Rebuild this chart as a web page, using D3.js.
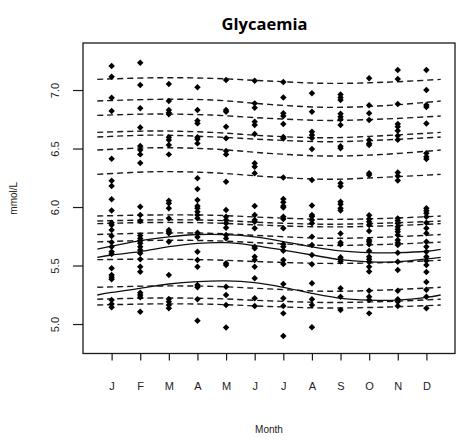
<!DOCTYPE html>
<html>
<head>
<meta charset="utf-8">
<script src="https://cdn.jsdelivr.net/npm/d3@7"></script>
<style>
  html, body { margin: 0; padding: 0; background: #fff; }
  svg { display: block; }
</style>
</head>
<body>
<div id="chart"></div>
<script>
// ---------- DATA ----------
const months = ["J","F","M","A","M","J","J","A","S","O","N","D"];
const yTicks = [5.0, 5.5, 6.0, 6.5, 7.0];

// knots (month positions) for dashed individual curves
const dashKnots = [0.5, 2.5, 4.5, 6.5, 8.5, 10.5, 12.5];
const dashedSeries = [
  [7.091, 7.105, 7.100, 7.077, 7.057, 7.066, 7.091],
  [6.906, 6.920, 6.915, 6.877, 6.852, 6.866, 6.906],
  [6.783, 6.795, 6.786, 6.758, 6.740, 6.752, 6.778],
  [6.638, 6.650, 6.638, 6.607, 6.592, 6.610, 6.638],
  [6.598, 6.615, 6.600, 6.575, 6.558, 6.573, 6.598],
  [6.487, 6.507, 6.496, 6.459, 6.436, 6.450, 6.487],
  [6.279, 6.302, 6.293, 6.259, 6.237, 6.254, 6.279],
  [5.923, 5.932, 5.930, 5.910, 5.895, 5.902, 5.923],
  [5.880, 5.890, 5.887, 5.866, 5.853, 5.862, 5.880],
  [5.858, 5.868, 5.864, 5.843, 5.830, 5.838, 5.858],
  [5.765, 5.778, 5.775, 5.752, 5.733, 5.742, 5.765],
  [5.702, 5.715, 5.712, 5.690, 5.672, 5.680, 5.700],
  [5.550, 5.555, 5.548, 5.530, 5.518, 5.525, 5.545],
  [5.314, 5.325, 5.322, 5.300, 5.280, 5.290, 5.314],
  [5.212, 5.222, 5.218, 5.198, 5.184, 5.192, 5.212],
  [5.162, 5.172, 5.169, 5.150, 5.137, 5.144, 5.162]
];

// knots for solid (group) curves
const solidKnots = [0.5, 1, 2, 3, 4, 5, 6, 7, 8, 9, 10, 11, 12, 12.5];
const solidSeries = [
  [5.641, 5.665, 5.712, 5.745, 5.765, 5.764, 5.745, 5.705, 5.660, 5.625, 5.610, 5.610, 5.622, 5.638],
  [5.570, 5.590, 5.618, 5.661, 5.690, 5.695, 5.670, 5.632, 5.590, 5.550, 5.532, 5.532, 5.556, 5.570],
  [5.248, 5.270, 5.305, 5.342, 5.362, 5.368, 5.353, 5.314, 5.262, 5.220, 5.205, 5.205, 5.228, 5.248]
];

// observed values per month
const obsJan = [7.205, 7.114, 6.934, 6.821, 6.413, 6.225, 6.179, 6.066, 5.970, 5.866, 5.846, 5.803, 5.752, 5.698, 5.661, 5.618, 5.598, 5.476, 5.419, 5.399, 5.382, 5.205, 5.171, 5.143];
const obsFeb = [7.233, 7.043, 6.844, 6.679, 6.521, 6.487, 6.450, 6.376, 6.003, 5.932, 5.880, 5.756, 5.732, 5.712, 5.690, 5.661, 5.632, 5.604, 5.553, 5.490, 5.447, 5.268, 5.248, 5.228, 5.105];
const obsMar = [7.051, 6.906, 6.829, 6.806, 6.792, 6.596, 6.573, 6.530, 6.450, 6.054, 6.032, 5.989, 5.903, 5.803, 5.789, 5.775, 5.703, 5.419, 5.214, 5.191, 5.162, 5.134];
const obsApr = [7.023, 6.829, 6.738, 6.715, 6.596, 6.579, 6.544, 6.245, 6.154, 6.060, 6.009, 5.989, 5.960, 5.932, 5.903, 5.780, 5.744, 5.618, 5.547, 5.490, 5.333, 5.314, 5.212, 5.028];
const obsMay = [7.085, 6.829, 6.815, 6.686, 6.587, 6.479, 6.450, 6.216, 5.974, 5.917, 5.889, 5.861, 5.823, 5.761, 5.732, 5.519, 5.504, 5.319, 5.248, 5.162, 4.970];
const obsJun = [7.079, 6.886, 6.849, 6.729, 6.701, 6.624, 6.374, 6.344, 6.288, 6.009, 5.932, 5.889, 5.874, 5.818, 5.661, 5.647, 5.575, 5.547, 5.490, 5.391, 5.220, 5.154];
const obsJul = [7.068, 6.936, 6.801, 6.778, 6.709, 6.598, 6.585, 6.252, 6.068, 6.040, 6.009, 5.996, 5.917, 5.897, 5.818, 5.681, 5.661, 5.626, 5.547, 5.513, 5.342, 5.220, 5.154, 5.091, 4.897];
const obsAug = [6.972, 6.815, 6.644, 6.615, 6.590, 6.496, 6.231, 6.013, 5.932, 5.919, 5.889, 5.861, 5.746, 5.675, 5.590, 5.511, 5.348, 5.211, 5.162, 4.972];
const obsSep = [6.962, 6.936, 6.915, 6.797, 6.772, 6.750, 6.701, 6.519, 6.502, 6.203, 6.177, 6.045, 6.023, 5.989, 5.970, 5.774, 5.697, 5.681, 5.570, 5.553, 5.534, 5.305, 5.233, 5.120];
const obsOct = [7.100, 6.869, 6.801, 6.744, 6.573, 6.544, 6.530, 6.288, 6.274, 5.929, 5.897, 5.874, 5.846, 5.795, 5.718, 5.703, 5.681, 5.624, 5.575, 5.553, 5.532, 5.490, 5.449, 5.285, 5.233, 5.205, 5.091];
const obsNov = [7.171, 7.094, 6.880, 6.709, 6.686, 6.652, 6.609, 6.576, 6.295, 6.265, 6.226, 5.903, 5.883, 5.861, 5.832, 5.809, 5.789, 5.761, 5.718, 5.695, 5.675, 5.609, 5.532, 5.462, 5.285, 5.211, 5.191, 5.154];
const obsDec = [7.171, 7.000, 6.872, 6.855, 6.714, 6.459, 6.430, 6.410, 5.989, 5.968, 5.946, 5.917, 5.866, 5.818, 5.775, 5.703, 5.661, 5.618, 5.575, 5.541, 5.504, 5.444, 5.359, 5.293, 5.233, 5.134];
const observations = [obsJan, obsFeb, obsMar, obsApr, obsMay, obsJun, obsJul, obsAug, obsSep, obsOct, obsNov, obsDec];

// ---------- LAYOUT ----------
const W = 458, H = 445;
const box = { left: 83, right: 455, top: 43, bottom: 353.5 };

const svg = d3.select("#chart").append("svg")
  .attr("width", W).attr("height", H);

const x = d3.scaleLinear().domain([0, 13]).range([box.left, box.right]);
const y = d3.scaleLinear().domain([4.748, 7.402]).range([box.bottom, box.top]);

const ink = "#111";
const textCol = "#222";

// Title
svg.append("text")
  .attr("x", 264.5).attr("y", 30)
  .attr("text-anchor", "middle")
  .attr("font-family", "'Open Sans', 'Liberation Sans', sans-serif")
  .attr("font-weight", "bold")
  .attr("font-size", 16.5)
  .attr("fill", "#000")
  .text("Glycaemia");

// Dashed individual curves
const dashLine = d3.line()
  .x((d, i) => x(dashKnots[i]))
  .y(d => y(d))
  .curve(d3.curveCatmullRom);

svg.append("g").selectAll("path").data(dashedSeries).join("path")
  .attr("d", dashLine)
  .attr("fill", "none")
  .attr("stroke", "#1a1a1a")
  .attr("stroke-width", 1.4)
  .attr("stroke-dasharray", "6,4");

// Solid group curves
const solidLine = d3.line()
  .x((d, i) => x(solidKnots[i]))
  .y(d => y(d))
  .curve(d3.curveCatmullRom);

svg.append("g").selectAll("path").data(solidSeries).join("path")
  .attr("d", solidLine)
  .attr("fill", "none")
  .attr("stroke", ink)
  .attr("stroke-width", 1.3);

// Points (filled diamonds)
const pts = [];
observations.forEach((arr, mi) => arr.forEach(v => pts.push({ m: mi + 1, v })));
const diamond = d3.symbol().type(d3.symbolSquare).size(21);
svg.append("g").selectAll("path").data(pts).join("path")
  .attr("d", diamond)
  .attr("transform", d => `translate(${x(d.m)},${y(d.v)}) rotate(45)`)
  .attr("fill", "#000");

// Box
svg.append("rect")
  .attr("x", box.left).attr("y", box.top)
  .attr("width", box.right - box.left).attr("height", box.bottom - box.top)
  .attr("fill", "none").attr("stroke", "#1a1a1a").attr("stroke-width", 1.3);

// Y axis
const yAxis = svg.append("g").attr("transform", `translate(${box.left},0)`)
  .call(d3.axisLeft(y).tickValues(yTicks).tickFormat(d3.format(".1f")).tickSize(10).tickPadding(0));
yAxis.select(".domain").remove();
yAxis.selectAll(".tick line").attr("stroke", "#1a1a1a").attr("stroke-width", 1.2);
yAxis.selectAll(".tick text")
  .attr("transform", "translate(-28,0) rotate(-90)")
  .attr("x", 0).attr("y", 0)
  .attr("dy", "0.35em")
  .attr("text-anchor", "middle")
  .attr("font-family", "'Liberation Sans', Arial, sans-serif")
  .attr("font-size", 11)
  .attr("fill", textCol);

// X axis
const xAxis = svg.append("g").attr("transform", `translate(0,${box.bottom})`)
  .call(d3.axisBottom(x).tickValues(d3.range(1, 13)).tickFormat((d) => months[d - 1]).tickSize(7).tickPadding(22));
xAxis.select(".domain").remove();
xAxis.selectAll(".tick line").attr("stroke", "#1a1a1a").attr("stroke-width", 1.2);
xAxis.selectAll(".tick text")
  .attr("font-family", "'Liberation Sans', Arial, sans-serif")
  .attr("font-size", 11)
  .attr("fill", textCol);

// Axis titles
svg.append("text")
  .attr("x", (box.left + box.right) / 2).attr("y", 433)
  .attr("text-anchor", "middle")
  .attr("font-family", "'Liberation Sans', Arial, sans-serif")
  .attr("font-size", 10)
  .attr("fill", textCol)
  .text("Month");

svg.append("text")
  .attr("transform", `translate(17,${(box.top + box.bottom) / 2}) rotate(-90)`)
  .attr("text-anchor", "middle")
  .attr("font-family", "'Liberation Sans', Arial, sans-serif")
  .attr("font-size", 10)
  .attr("fill", textCol)
  .text("mmol/L");
</script>
</body>
</html>
